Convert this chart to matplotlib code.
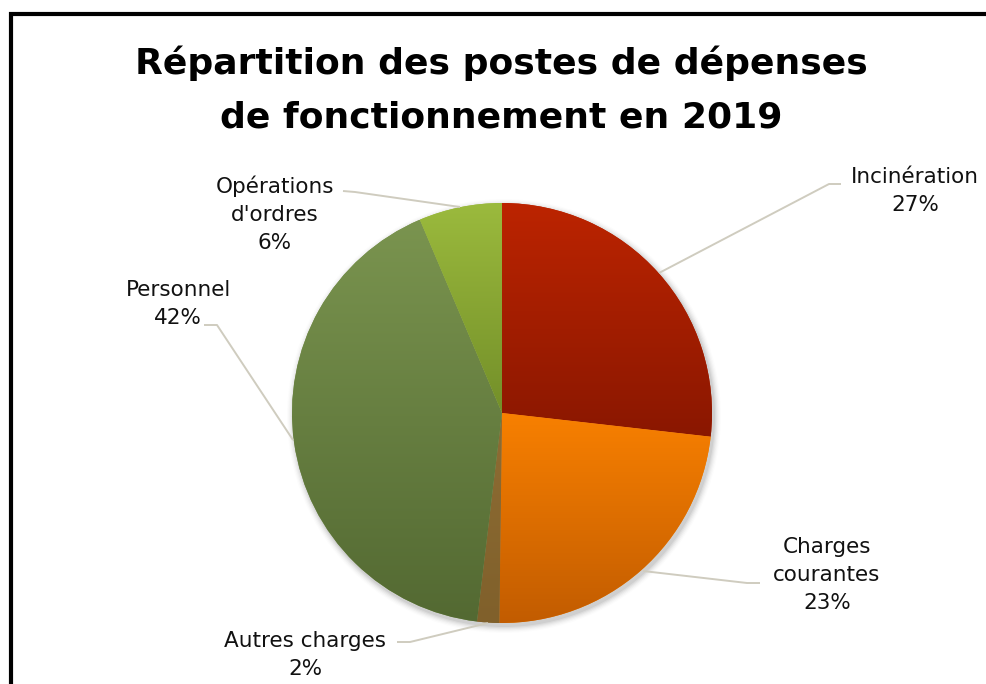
import numpy as np
import matplotlib
matplotlib.use("Agg")
import matplotlib.pyplot as plt
from matplotlib.colors import LinearSegmentedColormap
from matplotlib.patches import Circle

# ─────────────────────────────────────────────
# DATA (% of total)
# ─────────────────────────────────────────────
labels = ["Incinération", "Charges\ncourantes", "Autres charges",
          "Personnel", "Opérations\nd'ordres"]
values = [26.8, 23.4, 1.7, 41.7, 6.4]
pct_text = ["27%", "23%", "2%", "42%", "6%"]

# gradient colours (top, bottom) per slice
grad = [("#BC2400", "#8A1700"),
        ("#F88000", "#C25C00"),
        ("#8E6D34", "#80602B"),
        ("#7A944F", "#536932"),
        ("#9BBA3D", "#738F29")]

W, H = 986, 684
CX, CY, R = 502, H - 413, 210

plt.rcParams['font.family'] = ['DejaVu Sans']

fig = plt.figure(figsize=(W / 100, H / 100), dpi=100)
ax = fig.add_axes([0, 0, 1, 1])
ax.set_aspect('equal')

# soft shadow under the pie
for i, a in enumerate(np.linspace(0.05, 0.012, 6)):
    ax.add_patch(Circle((CX + 2, CY - 3), R + 1 + i * 1.2,
                        color='#000000', alpha=a, lw=0, zorder=1))

wedges, _ = ax.pie(values, startangle=90, counterclock=False,
                   center=(CX, CY), radius=R, frame=True,
                   wedgeprops=dict(linewidth=0, zorder=2))
ax.set_xlim(0, W)
ax.set_ylim(0, H)
ax.axis('off')

# vertical gradient fill per slice
for w, (c_top, c_bot) in zip(wedges, grad):
    ext = w.get_path().get_extents()
    cmap = LinearSegmentedColormap.from_list("g", [c_bot, c_top])
    g = np.linspace(0, 1, 256).reshape(-1, 1)
    w.set_facecolor(c_top)
    im = ax.imshow(g, cmap=cmap, origin='lower', aspect='auto',
                   extent=(ext.x0, ext.x1, ext.y0, ext.y1), zorder=3,
                   interpolation='bilinear')
    im.set_clip_path(w)

# labels and leader lines (image coords -> y flipped)
lab_pos = [(915, 191), (827, 575), (305, 655), (178, 304), (275, 214)]
leaders = [
    [(659, 273), (829, 184), (841, 184)],
    [(643, 571), (747, 583), (760, 583)],
    [(488, 623), (410, 642), (397, 642)],
    [(293, 440), (217, 325), (204, 325)],
    [(460, 207), (355, 192), (343, 191)],
]
lead_col = "#CFCCBF"
for name, pct, (lx, ly), pts in zip(labels, pct_text, lab_pos, leaders):
    xs = [p[0] for p in pts]
    ys = [H - p[1] for p in pts]
    ax.plot(xs, ys, color=lead_col, lw=1.4, zorder=4, solid_capstyle='butt')
    ax.text(lx, H - ly, name + "\n" + pct, ha='center', va='center',
            fontsize=15.5, color='#111111', linespacing=1.5, zorder=5)

# title
ax.text(501, H - 90, "Répartition des postes de dépenses\nde fonctionnement en 2019",
        ha='center', va='center', fontsize=26, fontweight='bold',
        color='#000000', linespacing=1.72)

# black frame (top and left visible)
ax.plot([11, 11, W + 5], [-5, H - 13.5, H - 13.5], color='black', lw=3,
        solid_joinstyle='miter', clip_on=False, zorder=6)

fig.savefig("out.png", dpi=100)
